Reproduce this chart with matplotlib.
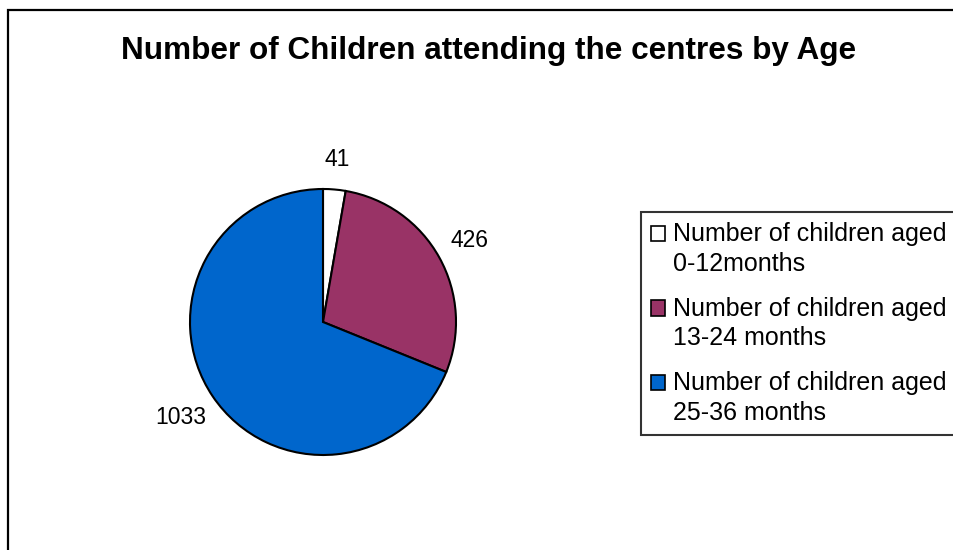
import numpy as np
import matplotlib.pyplot as plt
from matplotlib.patches import Rectangle
from matplotlib.legend_handler import HandlerPatch

plt.rcParams['font.family'] = ['Liberation Sans', 'DejaVu Sans']

counts = [41, 426, 1033]
labels = ["Number of children aged\n0-12months",
          "Number of children aged\n13-24 months",
          "Number of children aged\n25-36 months"]
colors = ["#FFFFFF", "#993366", "#0066CC"]
label_dist = [1.23, 1.26, 1.29]

W, H = 954, 550
fig = plt.figure(figsize=(W / 100, H / 100), dpi=100)

# outer chart border (right/bottom run off the picture)
fig.patches.append(Rectangle((8.5 / W, -0.1), 1.2, 1 - 10 / H + 0.1, transform=fig.transFigure,
                             fill=False, edgecolor="black", linewidth=1.6))

fig.text(489 / W, 1 - 58.5 / H, "Number of Children attending the centres by Age",
         ha="center", va="baseline", fontsize=22.7, fontweight="bold")

cx, cy, r = 323, 322, 133
ax = fig.add_axes([(cx - r) / W, (H - cy - r) / H, 2 * r / W, 2 * r / H])
wedges, _ = ax.pie(counts, colors=colors, startangle=90, counterclock=False,
                   wedgeprops=dict(edgecolor="black", linewidth=1.5))
ax.set_xlim(-1, 1)
ax.set_ylim(-1, 1)
ax.set_aspect("equal")
ax.axis("off")

for w, n, d in zip(wedges, counts, label_dist):
    a = np.deg2rad((w.theta1 + w.theta2) / 2)
    ax.text(d * np.cos(a), d * np.sin(a), str(n), ha="center", va="center",
            fontsize=16.5, clip_on=False)

lsp = 1.3


# legend squares sit on the first line of each two-line label
def top_square(legend, orig_handle, xdescent, ydescent, width, height, fontsize):
    return Rectangle((-xdescent, -ydescent + lsp / 2 * fontsize), width, height)


fs = 18
leg = fig.legend(wedges, labels, loc="upper left", bbox_to_anchor=(641 / W, 1 - 212 / H),
                 fontsize=fs, frameon=True, fancybox=False, handlelength=0.56,
                 handleheight=0.56, handletextpad=0.32, borderpad=0.4, labelspacing=0.84,
                 borderaxespad=0,
                 handler_map={w: HandlerPatch(patch_func=top_square) for w in wedges})
for t in leg.get_texts():
    t.set_linespacing(lsp)
leg.get_frame().set_edgecolor("black")
leg.get_frame().set_linewidth(1.5)
for p in leg.get_patches():
    p.set_linewidth(1.2)

fig.savefig("out.png", dpi=100)
